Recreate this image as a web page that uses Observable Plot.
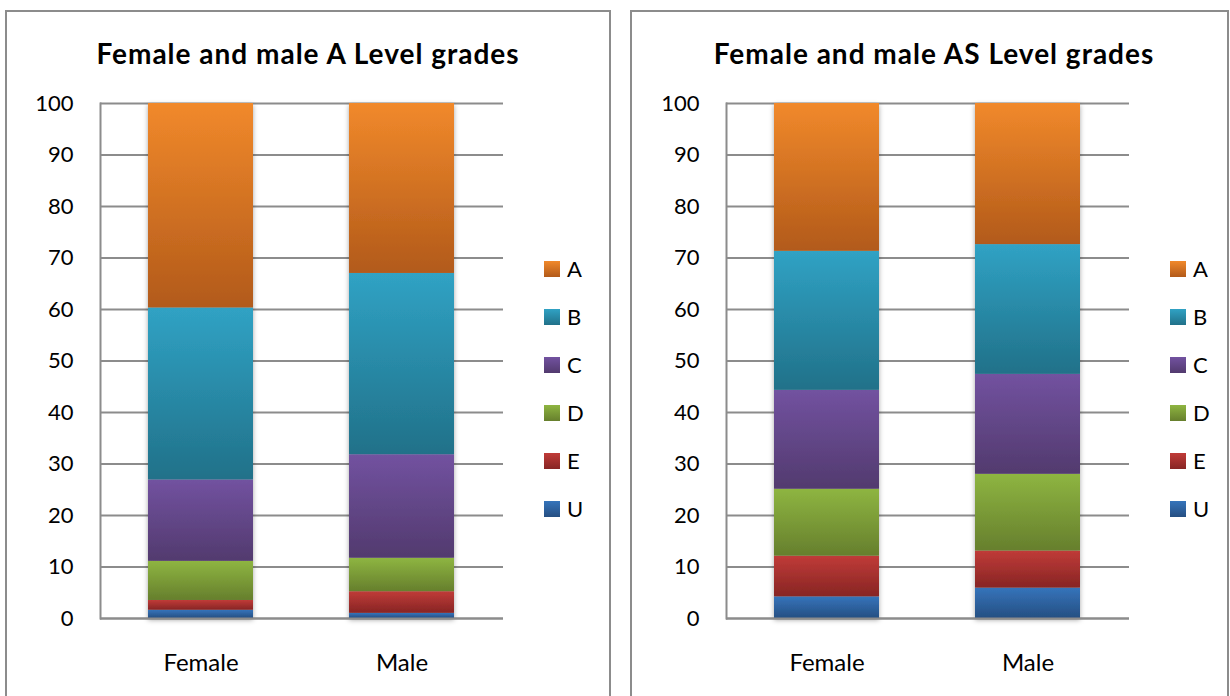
<!DOCTYPE html>
<html>
<head>
<meta charset="utf-8">
<script src="https://cdn.jsdelivr.net/npm/d3@7"></script>
<script src="https://cdn.jsdelivr.net/npm/@observablehq/plot@0.6"></script>
<style>
  html, body { margin: 0; padding: 0; background: #fff; }
  body { font-family: Lato, "Open Sans", sans-serif; color: #000; }
  #page { position: relative; width: 1230px; height: 696px; overflow: hidden; background: #fff; }
  .panel { position: absolute; top: 10px; height: 720px; box-sizing: border-box;
           border: 2px solid #8c8c8c; border-bottom: none; }
  .title { position: absolute; width: 600px; text-align: center; font-weight: bold;
           font-size: 28px; letter-spacing: 1px; line-height: 30px; top: 38px; white-space: nowrap; }
  .legend { position: absolute; top: 0; }
  .item { position: absolute; left: 0; height: 24px; display: flex; align-items: center; white-space: nowrap; }
  .swatch { width: 16px; height: 16px; margin-right: 7px; }
  .item span { font-size: 22px; line-height: 24px; }
</style>
</head>
<body>
<svg width="0" height="0" style="position:absolute">
  <defs id="defs"></defs>
</svg>
<div id="page"></div>
<script>
// ---- data ----
const grades = ["U", "E", "D", "C", "B", "A"];          // stacking order, bottom to top
const genders = ["Female", "Male"];
const aLevelFemale  = [1.6, 1.9, 7.6, 15.8, 33.4, 39.7];
const aLevelMale    = [1.0, 4.2, 6.5, 20.1, 35.2, 33.0];
const asLevelFemale = [4.2, 7.9, 13.0, 19.2, 27.0, 28.7];
const asLevelMale   = [5.9, 7.2, 14.9, 19.4, 25.2, 27.4];
const yTicks = [0, 10, 20, 30, 40, 50, 60, 70, 80, 90, 100];
const titles = ["Female and male A Level grades", "Female and male AS Level grades"];
const gradeTop    = ["#3574bb", "#c03b38", "#8eb541", "#7252a0", "#30a2c4", "#f1892b"];
const gradeBottom = ["#264f82", "#872524", "#667f2d", "#523a6e", "#217189", "#b25a1a"];

// gradients
const defs = d3.select("#defs");
grades.forEach((g, i) => {
  const lg = defs.append("linearGradient").attr("id", "grad-" + g)
    .attr("x1", 0).attr("y1", 0).attr("x2", 0).attr("y2", 1);
  lg.append("stop").attr("offset", "0%").attr("stop-color", gradeTop[i]);
  lg.append("stop").attr("offset", "100%").attr("stop-color", gradeBottom[i]);
});
const f = defs.append("filter").attr("id", "shadow")
  .attr("x", "-20%").attr("y", "-5%").attr("width", "140%").attr("height", "112%");
f.append("feDropShadow").attr("dx", 0).attr("dy", 2).attr("stdDeviation", 2.5)
  .attr("flood-color", "#000").attr("flood-opacity", 0.35);

const page = document.getElementById("page");

function makePanel(offset, panelLeft, panelWidth, title, female, male) {
  const panel = document.createElement("div");
  panel.className = "panel";
  panel.style.left = panelLeft + "px";
  panel.style.width = panelWidth + "px";
  page.appendChild(panel);

  const t = document.createElement("div");
  t.className = "title";
  t.textContent = title;
  t.style.left = (308 + offset - 300) + "px";
  page.appendChild(t);

  const data = [];
  genders.forEach((gender, gi) => grades.forEach((grade, i) =>
    data.push({ gender, grade, value: (gi ? male : female)[i] })));

  const svg = Plot.plot({
    width: 500, height: 600,
    marginLeft: 80, marginRight: 17, marginTop: 23, marginBottom: 62,
    style: { fontFamily: "Lato, 'Open Sans', sans-serif", fontSize: "22px", color: "#000", background: "transparent", overflow: "visible" },
    x: { domain: genders, paddingInner: 0.4776, paddingOuter: 0.239, label: null },
    y: { domain: [0, 100], label: null },
    color: { domain: grades, range: grades.map(g => `url(#grad-${g})`) },
    marks: [
      Plot.gridY(yTicks, { stroke: "#8c8c8c", strokeOpacity: 1, strokeWidth: 2 }),
      Plot.barY(data, { x: "gender", y: "value", fill: "grade", order: null, inset: 0 }),
      Plot.ruleY([0], { stroke: "#8c8c8c", strokeWidth: 2 }),
      Plot.frame({ anchor: "left", stroke: "#8c8c8c", strokeWidth: 2 }),
      Plot.axisY(yTicks, { tickSize: 0, tickPadding: 27, fontSize: 22, tickFormat: d => String(d), label: null }),
      Plot.axisX({ tickSize: 0, tickPadding: 35, fontSize: 24, label: null })
    ]
  });
  const bars = svg.querySelector('g[aria-label="bar"]');
  if (bars) bars.setAttribute("filter", "url(#shadow)");
  svg.style.position = "absolute";
  svg.style.left = (20 + offset) + "px";
  svg.style.top = "80px";
  page.appendChild(svg);

  // legend (A at top)
  const legend = document.createElement("div");
  legend.className = "legend";
  legend.style.left = (544 + offset) + "px";
  const order = grades.slice().reverse();
  order.forEach((g, k) => {
    const i = grades.indexOf(g);
    const item = document.createElement("div");
    item.className = "item";
    item.style.top = (269 + 48 * k - 12) + "px";
    const sw = document.createElement("div");
    sw.className = "swatch";
    sw.style.background = `linear-gradient(${gradeTop[i]}, ${gradeBottom[i]})`;
    const lab = document.createElement("span");
    lab.textContent = g;
    item.appendChild(sw); item.appendChild(lab);
    legend.appendChild(item);
  });
  page.appendChild(legend);
}

makePanel(0, 5, 606, titles[0], aLevelFemale, aLevelMale);
makePanel(626, 630, 599, titles[1], asLevelFemale, asLevelMale);
</script>
</body>
</html>
